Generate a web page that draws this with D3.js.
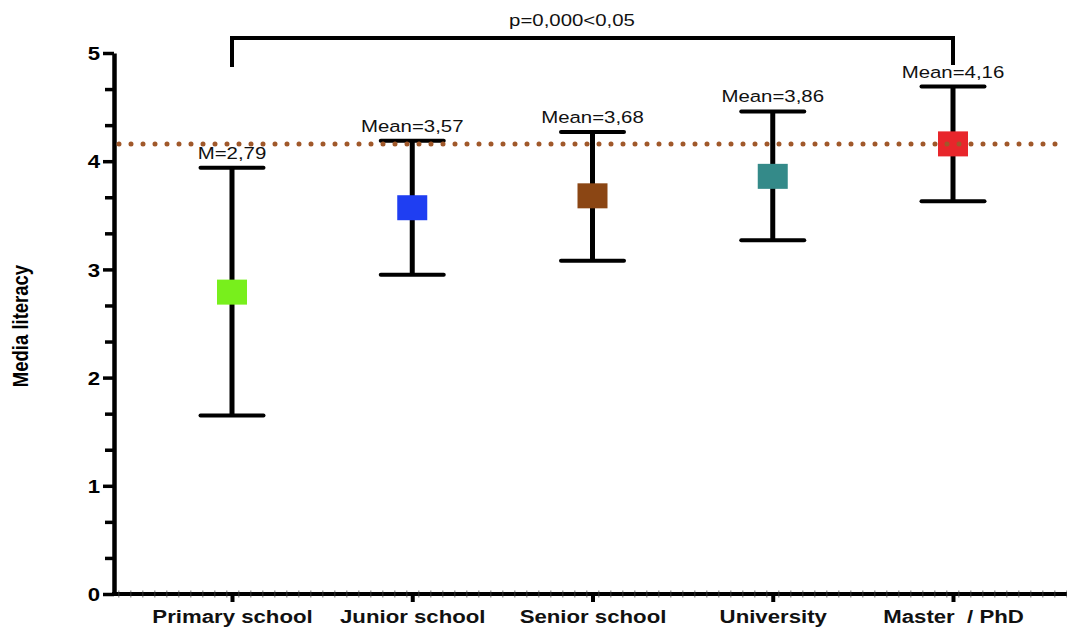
<!DOCTYPE html>
<html>
<head>
<meta charset="utf-8">
<script src="https://cdn.jsdelivr.net/npm/d3@7"></script>
<style>
  html, body { margin: 0; padding: 0; background: #fff; }
  svg { display: block; font-family: "Liberation Sans", Arial, Helvetica, sans-serif; }
</style>
</head>
<body>
<svg id="chart" width="1067" height="628"></svg>
<script>
// ---- data ----
const categories = ["Primary school", "Junior school", "Senior school", "University", "Master  / PhD"];
const means      = [2.79, 3.57, 3.68, 3.86, 4.16];
const upper      = [3.94, 4.19, 4.27, 4.46, 4.69];
const lower      = [1.65, 2.95, 3.08, 3.27, 3.63];
const meanLabels = ["M=2,79", "Mean=3,57", "Mean=3,68", "Mean=3,86", "Mean=4,16"];
const colors     = ["#78ef1c", "#1f3ef2", "#8b4614", "#348a89", "#e8262b"];
const yTicks     = [0, 1, 2, 3, 4, 5];
const referenceValue = 4.16;
const pLabel = "p=0,000<0,05";
const yTitle = "Media literacy";

const SX = 1.2; // horizontal stretch of the original picture

const svg = d3.select("#chart");
const y = d3.scaleLinear().domain([0, 5]).range([594, 53]);
const x = d3.scalePoint().domain(categories).range([232, 953]);
const axisX = 114;

// ---- Y axis ----
const minorVals = d3.range(0, 15).map(i => i / 3).filter(v => Math.abs(v - Math.round(v)) > 1e-6);
const gMinor = svg.append("g").attr("transform", `translate(${axisX},0)`)
  .call(d3.axisLeft(y).tickValues(minorVals).tickSize(9).tickFormat(""));
gMinor.select(".domain").remove();
gMinor.selectAll(".tick line").attr("stroke", "#000").attr("stroke-width", 3.5);

const gY = svg.append("g").attr("transform", `translate(${axisX},0)`)
  .call(d3.axisLeft(y).tickValues(yTicks).tickSize(11).tickSizeOuter(0).tickFormat(d3.format("d")));
gY.select(".domain").attr("stroke", "#000").attr("stroke-width", 4.5);
gY.selectAll(".tick line").attr("stroke", "#000").attr("stroke-width", 3.5);
gY.selectAll(".tick text")
  .attr("x", 0).attr("dy", "0.36em")
  .attr("transform", `translate(-14,0) scale(${SX},1)`)
  .attr("font-size", 18.5).attr("font-weight", "bold").attr("fill", "#000")
  .attr("font-family", "'Liberation Sans', Arial, sans-serif");

// ---- X axis ----
svg.append("line")
  .attr("x1", axisX - 2).attr("x2", 1067).attr("y1", y(0)).attr("y2", y(0))
  .attr("stroke", "#000").attr("stroke-width", 4);
svg.append("line")
  .attr("x1", axisX + 4).attr("x2", 1067).attr("y1", y(0)).attr("y2", y(0))
  .attr("stroke", "#444").attr("stroke-width", 7).attr("stroke-dasharray", "1.5 10.5").attr("opacity", 0.5);
const gX = svg.append("g").attr("transform", `translate(0,${y(0)})`)
  .call(d3.axisBottom(x).tickSize(8).tickSizeOuter(0));
gX.select(".domain").remove();
gX.selectAll(".tick line").attr("stroke", "#000").attr("stroke-width", 4);
gX.selectAll(".tick text")
  .attr("y", 0).attr("dy", 0)
  .attr("transform", `translate(0,29) scale(${SX},1)`)
  .attr("font-size", 18.5).attr("font-weight", "bold").attr("fill", "#111")
  .attr("font-family", "'Liberation Sans', Arial, sans-serif")
  .style("white-space", "pre").attr("xml:space", "preserve");

// ---- Y title ----
svg.append("text")
  .attr("transform", `translate(20,326) scale(${SX},1) rotate(-90)`)
  .attr("text-anchor", "middle").attr("dy", "0.36em")
  .attr("font-size", 18.5).attr("font-weight", "bold").attr("fill", "#000")
  .text(yTitle);

// ---- error bars ----
const data = categories.map((c, i) => ({ c, m: means[i], hi: upper[i], lo: lower[i], label: meanLabels[i], color: colors[i] }));
const g = svg.append("g");
const capW = 63;
g.selectAll(".stem").data(data).join("line")
  .attr("x1", d => x(d.c)).attr("x2", d => x(d.c))
  .attr("y1", d => y(d.lo)).attr("y2", d => y(d.hi))
  .attr("stroke", "#000").attr("stroke-width", 5);
g.selectAll(".capHi").data(data).join("line")
  .attr("x1", d => x(d.c) - capW / 2).attr("x2", d => x(d.c) + capW / 2)
  .attr("y1", d => y(d.hi)).attr("y2", d => y(d.hi))
  .attr("stroke", "#000").attr("stroke-width", 4).attr("stroke-linecap", "round");
g.selectAll(".capLo").data(data).join("line")
  .attr("x1", d => x(d.c) - capW / 2).attr("x2", d => x(d.c) + capW / 2)
  .attr("y1", d => y(d.lo)).attr("y2", d => y(d.lo))
  .attr("stroke", "#000").attr("stroke-width", 4).attr("stroke-linecap", "round");
g.selectAll(".mark").data(data).join("rect")
  .attr("x", d => x(d.c) - 15).attr("y", d => y(d.m) - 12.5)
  .attr("width", 30).attr("height", 25)
  .attr("fill", d => d.color);
g.selectAll(".mlabel").data(data).join("text")
  .attr("transform", d => `translate(${x(d.c)},${y(d.hi) - 9}) scale(${SX},1)`)
  .attr("text-anchor", "middle")
  .attr("font-size", 17).attr("fill", "#111")
  .text(d => d.label);

// ---- reference dotted line ----
svg.append("line")
  .attr("x1", axisX + 5).attr("x2", 1064)
  .attr("y1", y(referenceValue)).attr("y2", y(referenceValue))
  .attr("stroke", "#a0582a").attr("stroke-width", 5)
  .attr("stroke-linecap", "round").attr("stroke-dasharray", "0 12");

// ---- significance bracket ----
const x0 = x(categories[0]), x1 = x(categories[categories.length - 1]);
svg.append("path")
  .attr("d", `M${x0},67 V38 H${x1} V65`)
  .attr("fill", "none").attr("stroke", "#000").attr("stroke-width", 4);
svg.append("text")
  .attr("transform", `translate(572,26) scale(${SX},1)`)
  .attr("text-anchor", "middle").attr("font-size", 17).attr("fill", "#111")
  .text(pLabel);
</script>
</body>
</html>
